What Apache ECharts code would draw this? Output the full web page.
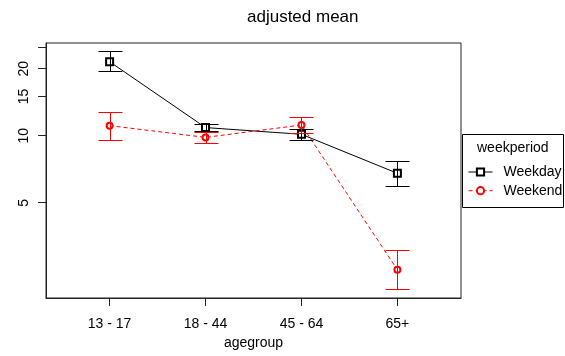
<!DOCTYPE html>
<html><head><meta charset="utf-8">
<script src="https://cdn.jsdelivr.net/npm/echarts@6/dist/echarts.min.js"></script>
<style>html,body{margin:0;padding:0;background:#fff}#c{width:565px;height:356px}</style>
</head><body><div id="c"></div>
<script>
const categories = ['13 - 17', '18 - 44', '45 - 64', '65+'];
const weekdayMean  = [21.5, 10.88, 10.15, 6.78];
const weekdayLower = [19.6, 10.48, 9.57, 5.95];
const weekdayUpper = [24.0, 11.29, 10.69, 7.70];
const weekendMean  = [11.1, 9.83, 11.17, 2.50];
const weekendLower = [9.57, 9.24, 10.31, 2.04];
const weekendUpper = [12.82, 10.42, 12.09, 3.07];
const yTickValues  = [5, 10, 15, 20, 25];
const yLabelValues = [5, 10, 15, 20];

const FONT = 'Liberation Sans, Arial, sans-serif';
const xPos = categories.map((c, i) => i + 1);

function errRender(color) {
  return function (params, api) {
    const x = api.value(0), lo = api.value(1), hi = api.value(2);
    const pLo = api.coord([x, lo]), pHi = api.coord([x, hi]);
    const cx = Math.round(pLo[0]) + 0.5;
    const yl = Math.round(pLo[1]) + 0.5, yh = Math.round(pHi[1]) + 0.5;
    const w = 12;
    const style = { stroke: color, lineWidth: 1 };
    return { type: 'group', children: [
      { type: 'line', shape: { x1: cx, y1: yl, x2: cx, y2: yh }, style },
      { type: 'line', shape: { x1: cx - w, y1: yl, x2: cx + w, y2: yl }, style },
      { type: 'line', shape: { x1: cx - w, y1: yh, x2: cx + w, y2: yh }, style }
    ]};
  };
}

const chart = echarts.init(document.getElementById('c'), null, { renderer: 'canvas' });
chart.setOption({
  animation: false,
  backgroundColor: '#fff',
  textStyle: { fontFamily: FONT },
  title: [
    { text: 'adjusted mean', left: 247, top: 9, padding: 0,
      textStyle: { fontSize: 17, fontWeight: 'normal', color: '#000', fontFamily: FONT } },
    { text: 'weekperiod', left: 477, top: 141, padding: 0,
      textStyle: { fontSize: 14, fontWeight: 'normal', color: '#000', fontFamily: FONT } }
  ],
  graphic: [
    { type: 'rect', shape: { x: 462.5, y: 134.5, width: 101, height: 73 },
      style: { fill: 'none', stroke: '#000', lineWidth: 1 }, z: 10 }
  ],
  legend: {
    data: ['Weekday', 'Weekend'],
    orient: 'vertical', left: 468, top: 165, padding: 0,
    itemWidth: 24, itemHeight: 9, itemGap: 4.7,
    itemStyle: { borderWidth: 1 },
    lineStyle: { width: 1 },
    textStyle: { fontSize: 14, color: '#000', fontFamily: FONT, padding: [0, 0, 0, 6] }
  },
  grid: { left: 46, right: 104, top: 43, bottom: 58, show: true, borderColor: '#222', borderWidth: 1 },
  xAxis: {
    type: 'value', min: 0.337, max: 4.663,
    axisLine: { show: true, lineStyle: { color: '#222' } },
    axisTick: { show: true, customValues: xPos, length: 8, lineStyle: { color: '#222' } },
    axisLabel: { customValues: xPos, formatter: v => categories[Math.round(v) - 1],
      fontSize: 14, margin: 19, color: '#000', fontFamily: FONT },
    splitLine: { show: false },
    name: 'agegroup', nameLocation: 'middle', nameGap: 37,
    nameTextStyle: { fontSize: 14, color: '#000', fontFamily: FONT }
  },
  yAxis: {
    type: 'log', min: 1.867, max: 26.09,
    axisLine: { show: true, lineStyle: { color: '#222' } },
    axisTick: { show: true, customValues: yTickValues, length: 8, lineStyle: { color: '#222' } },
    axisLabel: { customValues: yLabelValues, rotate: 90, fontSize: 14, margin: 15,
      color: '#000', fontFamily: FONT },
    splitLine: { show: false }
  },
  series: [
    { name: 'Weekday', type: 'line', data: xPos.map((x, i) => [x, weekdayMean[i]]),
      symbol: 'emptyRect', symbolSize: 7, color: '#000',
      lineStyle: { color: '#000', width: 1 }, itemStyle: { color: '#000', borderWidth: 1 }, z: 3 },
    { name: 'Weekend', type: 'line', data: xPos.map((x, i) => [x, weekendMean[i]]),
      symbol: 'emptyCircle', symbolSize: 6, color: '#f00',
      lineStyle: { color: '#f00', width: 1, type: [4, 3] }, itemStyle: { color: '#f00', borderWidth: 1 }, z: 3 },
    { type: 'custom', renderItem: errRender('#000'), encode: { x: 0, y: [1, 2] },
      data: xPos.map((x, i) => [x, weekdayLower[i], weekdayUpper[i]]), z: 4 },
    { type: 'custom', renderItem: errRender('#f00'), encode: { x: 0, y: [1, 2] },
      data: xPos.map((x, i) => [x, weekendLower[i], weekendUpper[i]]), z: 5 }
  ]
});
</script></body></html>
